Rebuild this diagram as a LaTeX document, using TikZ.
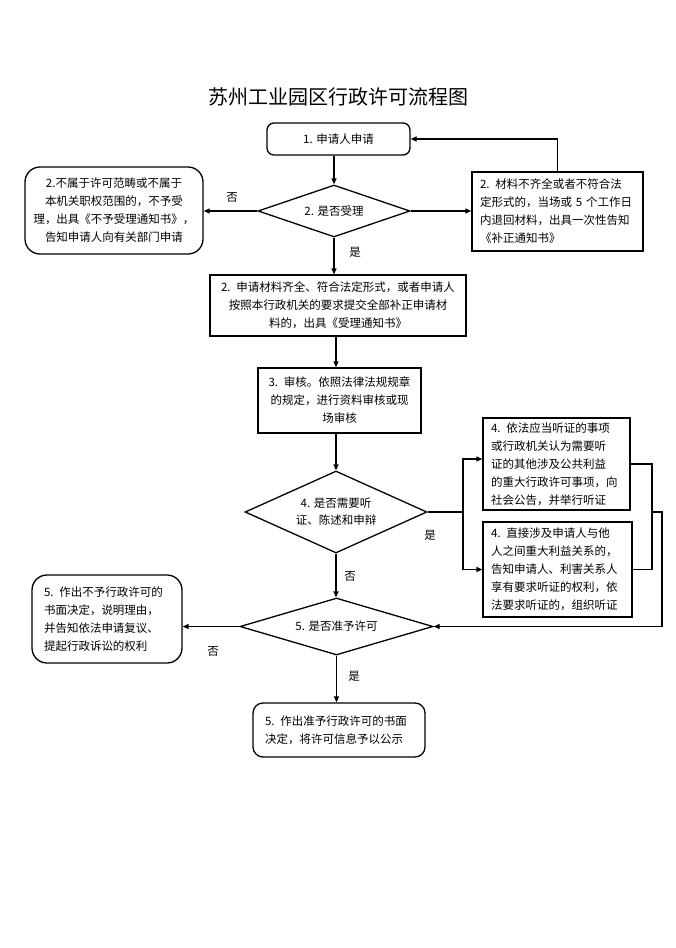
\documentclass[tikz,border=0pt]{standalone}
\usepackage{fontspec}
\setmainfont{Noto Sans CJK SC}
\usetikzlibrary{shapes.geometric,arrows.meta}
\begin{document}
\begin{tikzpicture}[x=1pt,y=-1pt,
  every node/.style={font=\fontsize{11.5}{18}\selectfont},
  box/.style={draw, line width=1.3pt, inner xsep=4pt, inner ysep=2pt, align=center},
  rbox/.style={box, rounded corners=10pt},
  dia/.style={diamond, draw, line width=1.3pt, inner sep=0pt, align=center, aspect=2.4},
  arr/.style={line width=1.3pt, -{Triangle[length=6pt,width=5pt]}},
  ln/.style={line width=1.3pt},
  lbl/.style={font=\fontsize{11.5}{14}\selectfont}
]
\useasboundingbox[fill=white] (0,0) rectangle (676,948);

\node[font=\fontsize{20}{24}\selectfont] (title) at (338,97) {苏州工业园区行政许可流程图};

\node[rbox, rounded corners=7pt, minimum width=143pt, minimum height=32pt] (b1) at (338.5,139) {1. 申请人申请};

\node[dia, minimum width=152pt, minimum height=52pt] (d2) at (334,211) {2. 是否受理};

\node[rbox, rounded corners=15pt, text width=170pt, minimum height=87pt] (b2L) at (114,210.5)
  {2.不属于许可范畴或不属于\\本机关职权范围的，不予受\\理，出具《不予受理通知书》，\\告知申请人向有关部门申请};

\node[box, align=left, inner xsep=8pt, text width=155pt, minimum height=79pt] (b2R) at (557.5,211.5)
  {2. 材料不齐全或者不符合法\\定形式的，当场或 5 个工作日\\内退回材料，出具一次性告知\\《补正通知书》};

\node[box, text width=248pt, minimum height=61pt] (b2b) at (338,305.5)
  {2. 申请材料齐全、符合法定形式，或者申请人\\按照本行政机关的要求提交全部补正申请材\\料的，出具《受理通知书》};

\node[box, text width=155pt, minimum height=65pt] (b3) at (339.5,400.5)
  {3. 审核。依照法律法规规章\\的规定，进行资料审核或现\\场审核};

\node[dia, font=\fontsize{11.5}{17}\selectfont, minimum width=182pt, minimum height=82pt] (d4) at (336,512)
  {4. 是否需要听\\证、陈述和申辩};

\node[box, align=left, inner xsep=8pt, text width=131pt, minimum height=92pt] (b4a) at (556.5,464)
  {4. 依法应当听证的事项\\或行政机关认为需要听\\证的其他涉及公共利益\\的重大行政许可事项，向\\社会公告，并举行听证};

\node[box, align=left, inner xsep=8pt, text width=133pt, minimum height=95pt] (b4b) at (557.5,569.5)
  {4. 直接涉及申请人与他\\人之间重大利益关系的，\\告知申请人、利害关系人\\享有要求听证的权利，依\\法要求听证的，组织听证};

\node[dia, minimum width=193pt, minimum height=57pt] (d5) at (336.5,626.5) {5. 是否准予许可};

\node[rbox, rounded corners=15pt, align=left, inner xsep=12pt, text width=126pt, minimum height=88pt] (b5a) at (107,619)
  {5. 作出不予行政许可的\\书面决定，说明理由，\\并告知依法申请复议、\\提起行政诉讼的权利};

\node[rbox, rounded corners=10pt, align=left, inner xsep=12pt, text width=148pt, minimum height=54pt] (b5b) at (339,730)
  {5. 作出准予行政许可的书面\\决定，将许可信息予以公示};

% connector helper coordinates
\coordinate (br) at (463,512);
\coordinate (bk) at (652,512);
\coordinate (rt) at (662,512);

% connectors
\draw[arr] (d2.north |- b1.south) -- (d2.north);
\draw[arr] (d2.west) -- (d2.west -| b2L.east);
\draw[arr] (d2.east) -- (d2.east -| b2R.west);
\draw[arr] (b2R.north) |- (b1.east);
\draw[arr] (d2.south) -- (d2.south |- b2b.north);
\draw[arr] (d4.north |- b2b.south) -- (d4.north |- b3.north);
\draw[arr] (d4.north |- b3.south) -- (d4.north);
\draw[ln] (d4.east) -- (br);
\draw[arr] (br) |- ([yshift=5pt]b4a.west);
\draw[arr] (br) |- (b4b.west);
\draw[ln] (b4a.east) -- (b4a.east -| bk) -- (b4b.east -| bk) -- (b4b.east);
\draw[arr] (bk) -- (rt) |- (d5.east);
\draw[arr] (d4.south) -- (d4.south |- d5.north);
\draw[arr] (d5.west) -- (d5.west -| b5a.east);
\draw[arr] (d5.south) -- (d5.south |- b5b.north);

% labels
\node[lbl] (l1) at (232,197) {否};
\node[lbl] (l2) at (355,252) {是};
\node[lbl] (l3) at (430,535) {是};
\node[lbl] (l4) at (350,576) {否};
\node[lbl] (l5) at (213,651) {否};
\node[lbl] (l6) at (354,676) {是};
\end{tikzpicture}
\end{document}
